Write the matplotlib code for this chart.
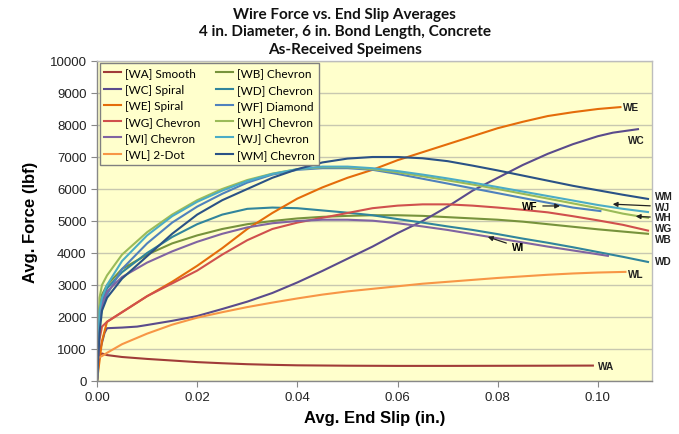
import matplotlib
matplotlib.use("Agg")
import matplotlib.pyplot as plt
import numpy as np

# ---------------- data ----------------
slip_WA = [0, 0.0003, 0.001, 0.002, 0.005, 0.01, 0.015, 0.02, 0.025, 0.03, 0.035, 0.04, 0.05, 0.06, 0.07, 0.08, 0.09, 0.099]
force_WA = [0, 800, 860, 810, 750, 690, 640, 590, 555, 525, 505, 490, 478, 472, 472, 475, 478, 482]

slip_std = [0, 0.0005, 0.001, 0.002, 0.005, 0.01, 0.015, 0.02, 0.025, 0.03, 0.035, 0.04, 0.045, 0.05,
            0.055, 0.06, 0.065, 0.07, 0.075, 0.08, 0.085, 0.09, 0.095, 0.1, 0.105, 0.11]

force_WB = [0, 2300, 2700, 3000, 3500, 3950, 4300, 4550, 4750, 4900, 5000, 5080, 5130, 5160,
            5180, 5180, 5160, 5120, 5080, 5040, 4980, 4900, 4820, 4740, 4670, 4600]

slip_WC = [0, 0.0005, 0.0015, 0.002, 0.005, 0.008, 0.01, 0.015, 0.02, 0.025, 0.03, 0.035, 0.04, 0.045,
           0.05, 0.055, 0.06, 0.065, 0.07, 0.075, 0.08, 0.085, 0.09, 0.095, 0.1, 0.103, 0.108]
force_WC = [0, 900, 1500, 1650, 1670, 1700, 1750, 1880, 2030, 2250, 2480, 2750, 3080, 3440,
            3820, 4200, 4620, 5000, 5450, 5950, 6350, 6750, 7100, 7400, 7650, 7760, 7870]

force_WD = [0, 2000, 2500, 2900, 3400, 4000, 4500, 4900, 5200, 5380, 5420, 5400, 5330, 5260,
            5180, 5060, 4950, 4830, 4720, 4590, 4450, 4320, 4180, 4030, 3880, 3720]

slip_WE = [0, 0.001, 0.002, 0.005, 0.01, 0.015, 0.02, 0.025, 0.03, 0.035, 0.04, 0.045, 0.05, 0.055,
           0.06, 0.065, 0.07, 0.075, 0.08, 0.085, 0.09, 0.095, 0.1, 0.1045]
force_WE = [0, 1250, 1850, 2150, 2650, 3100, 3600, 4150, 4750, 5250, 5700, 6050, 6350, 6600,
            6900, 7150, 7400, 7650, 7900, 8100, 8280, 8400, 8500, 8560]

slip_WF = [0, 0.0005, 0.001, 0.002, 0.005, 0.01, 0.015, 0.02, 0.025, 0.03, 0.035, 0.04, 0.045, 0.05,
           0.055, 0.06, 0.065, 0.07, 0.075, 0.08, 0.085, 0.09, 0.095, 0.1005]
force_WF = [0, 1800, 2300, 2700, 3500, 4300, 4950, 5450, 5850, 6200, 6450, 6600, 6650, 6650,
            6600, 6470, 6320, 6170, 6020, 5870, 5720, 5570, 5420, 5310]

force_WG = [0, 1300, 1700, 1850, 2150, 2650, 3050, 3450, 3950, 4400, 4750, 4950, 5100, 5250,
            5400, 5480, 5520, 5520, 5480, 5420, 5350, 5270, 5150, 5020, 4880, 4700]

force_WH = [0, 2600, 3000, 3300, 3950, 4650, 5200, 5650, 6000, 6280, 6480, 6620, 6680, 6680,
            6620, 6520, 6400, 6270, 6140, 6000, 5850, 5700, 5550, 5400, 5230, 5100]

slip_WI = [0, 0.0005, 0.001, 0.002, 0.005, 0.01, 0.015, 0.02, 0.025, 0.03, 0.035, 0.04, 0.045, 0.05,
           0.055, 0.06, 0.065, 0.07, 0.075, 0.08, 0.085, 0.09, 0.095, 0.1, 0.102]
force_WI = [0, 1800, 2400, 2800, 3250, 3700, 4050, 4350, 4600, 4800, 4930, 5000, 5040, 5040,
            5010, 4930, 4830, 4720, 4590, 4460, 4330, 4200, 4080, 3960, 3910]

force_WJ = [0, 2200, 2600, 3000, 3750, 4550, 5150, 5600, 5950, 6250, 6470, 6620, 6700, 6700,
            6650, 6560, 6450, 6330, 6200, 6060, 5920, 5780, 5640, 5500, 5380, 5280]

slip_WL = [0, 0.001, 0.002, 0.005, 0.01, 0.015, 0.02, 0.025, 0.03, 0.035, 0.04, 0.045, 0.05, 0.055,
           0.06, 0.065, 0.07, 0.075, 0.08, 0.085, 0.09, 0.095, 0.1, 0.1055]
force_WL = [700, 780, 880, 1150, 1480, 1760, 1980, 2150, 2310, 2450, 2580, 2700, 2800, 2880,
            2960, 3040, 3100, 3160, 3220, 3270, 3320, 3360, 3390, 3410]

force_WM = [0, 1500, 2200, 2600, 3200, 3900, 4600, 5200, 5650, 6000, 6350, 6620, 6830, 6950,
            7000, 7000, 6960, 6870, 6730, 6580, 6420, 6260, 6100, 5960, 5820, 5690]

series = [
    ("[WA] Smooth",  slip_WA,  force_WA, "#A03C38"),
    ("[WB] Chevron", slip_std, force_WB, "#77933C"),
    ("[WC] Spiral",  slip_WC,  force_WC, "#5A4B8C"),
    ("[WD] Chevron", slip_std, force_WD, "#31859C"),
    ("[WE] Spiral",  slip_WE,  force_WE, "#E46C0A"),
    ("[WF] Diamond", slip_WF,  force_WF, "#4F81BD"),
    ("[WG] Chevron", slip_std, force_WG, "#D0504D"),
    ("[WH] Chevron", slip_std, force_WH, "#9BBB59"),
    ("[WI] Chevron", slip_WI,  force_WI, "#8064A2"),
    ("[WJ] Chevron", slip_std, force_WJ, "#4BACC6"),
    ("[WL] 2-Dot",   slip_WL,  force_WL, "#F79646"),
    ("[WM] Chevron", slip_std, force_WM, "#2A5286"),
]

x_ticks = [0.00, 0.02, 0.04, 0.06, 0.08, 0.10]
x_tick_labels = ["0.00", "0.02", "0.04", "0.06", "0.08", "0.10"]
y_ticks = list(range(0, 10001, 1000))

# end labels: (text, x, y)
end_labels = [("WE", 0.1050, 8560), ("WC", 0.1060, 7530), ("WM", 0.1113, 5790),
              ("WJ", 0.1113, 5450), ("WH", 0.1113, 5110), ("WG", 0.1113, 4770),
              ("WB", 0.1113, 4430), ("WD", 0.1113, 3750), ("WL", 0.1060, 3350),
              ("WA", 0.1000, 470)]

# ---------------- figure ----------------
fig = plt.figure(figsize=(6.79, 4.35), dpi=100)
fig.patch.set_facecolor("white")
ax = fig.add_axes([97/679, 1-382/435, 555/679, 320/435])
ax.set_facecolor("#FFFFCC")

handles = {}
for name, xs, ys, col in series:
    h, = ax.plot(xs, ys, color=col, lw=1.5, solid_joinstyle="round")
    handles[name] = h

ax.set_xlim(0, 0.1108)
ax.set_ylim(0, 10000)
ax.set_xticks(x_ticks)
ax.set_xticklabels(x_tick_labels)
ax.set_yticks(y_ticks)
ax.yaxis.grid(True, color="#C8C8B0", lw=1.0)
ax.set_axisbelow(True)
for s in ax.spines.values():
    s.set_color("#BDBDBD")
    s.set_linewidth(1.0)
ax.spines["left"].set_color("#888888")
ax.spines["bottom"].set_color("#888888")
ax.tick_params(axis="both", direction="out", length=4, color="#888888",
               labelsize=9.5, labelcolor="#222222")
for lab in ax.get_xticklabels() + ax.get_yticklabels():
    lab.set_family("Liberation Sans")

ax.set_xlabel("Avg. End Slip (in.)", fontsize=12, fontweight="bold",
              family="Liberation Sans", labelpad=5)
ax.set_ylabel("Avg. Force (lbf)", fontsize=12, fontweight="bold",
              family="Liberation Sans", labelpad=8)

fig.text(0.508, 1-8/435, "Wire Force vs. End Slip Averages\n4 in. Diameter, 6 in. Bond Length, Concrete\nAs-Received Speimens",
         ha="center", va="top", fontsize=11, fontweight="bold", family="Lato",
         linespacing=1.3, color="#111111")

# legend: Excel row-major order -> matplotlib column-major
names = [s[0] for s in series]
order = names[0::2] + names[1::2]
leg = ax.legend([handles[n] for n in order], order, ncol=2, loc="upper left",
                bbox_to_anchor=(0.005, 0.995), borderaxespad=0, frameon=True,
                fancybox=False, prop={"family": "Lato", "size": 8.5},
                handlelength=1.4, handletextpad=0.3, columnspacing=1.4,
                labelspacing=0.45, borderpad=0.4)
leg.get_frame().set_edgecolor("#808080")
leg.get_frame().set_facecolor("#FFFFCC")
leg.get_frame().set_alpha(1)
leg.get_frame().set_linewidth(1.0)

for t, x, y in end_labels:
    ax.text(x, y, t, fontsize=7.2, fontweight="bold", family="Liberation Sans",
            ha="left", va="center", clip_on=False, color="#222222")

arrow = dict(arrowstyle="-|>", color="#222222", lw=0.9, mutation_scale=7)
ax.annotate("WF", xy=(0.0930, 5470), xytext=(0.0848, 5470), fontsize=7.2,
            fontweight="bold", family="Liberation Sans", ha="left", va="center",
            arrowprops=arrow)
ax.annotate("WI", xy=(0.0775, 4530), xytext=(0.0828, 4190), fontsize=7.2,
            fontweight="bold", family="Liberation Sans", ha="left", va="center",
            arrowprops=arrow)
ax.annotate("", xy=(0.1024, 5530), xytext=(0.1110, 5470), annotation_clip=False,
            arrowprops=arrow)
ax.annotate("", xy=(0.1070, 5150), xytext=(0.1110, 5120), annotation_clip=False,
            arrowprops=arrow)

fig.savefig("out.png", dpi=100, facecolor="white")
